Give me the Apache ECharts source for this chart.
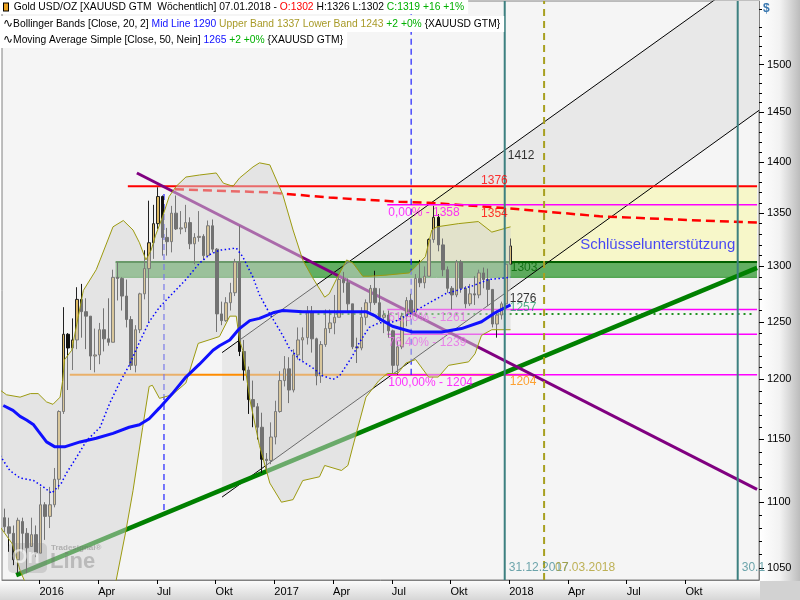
<!DOCTYPE html>
<html><head><meta charset="utf-8">
<script src="https://cdn.jsdelivr.net/npm/echarts@6/dist/echarts.min.js"></script>
<style>html,body{margin:0;padding:0;background:#fff}#c{width:800px;height:600px}</style>
</head><body><div id="c"></div>
<script>
// ---------------- DATA ----------------
const weeks = ['2015-11-04','2015-11-11','2015-11-18','2015-11-25','2015-12-02','2015-12-09','2015-12-16','2015-12-23','2015-12-30',
'2016-01-06','2016-01-13','2016-01-20','2016-01-27','2016-02-03','2016-02-10','2016-02-17','2016-02-24','2016-03-02','2016-03-09','2016-03-16','2016-03-23','2016-03-30','2016-04-06','2016-04-13','2016-04-20','2016-04-27','2016-05-04','2016-05-11','2016-05-18','2016-05-25','2016-06-01','2016-06-08','2016-06-15','2016-06-22','2016-06-29','2016-07-06','2016-07-13','2016-07-20','2016-07-27','2016-08-03','2016-08-10','2016-08-17','2016-08-24','2016-08-31','2016-09-07','2016-09-14','2016-09-21','2016-09-28','2016-10-05','2016-10-12','2016-10-19','2016-10-26','2016-11-02','2016-11-09','2016-11-16','2016-11-23','2016-11-30','2016-12-07','2016-12-14','2016-12-21','2016-12-28',
'2017-01-04','2017-01-11','2017-01-18','2017-01-25','2017-02-01','2017-02-08','2017-02-15','2017-02-22','2017-03-01','2017-03-08','2017-03-15','2017-03-22','2017-03-29','2017-04-05','2017-04-12','2017-04-19','2017-04-26','2017-05-03','2017-05-10','2017-05-17','2017-05-24','2017-05-31','2017-06-07','2017-06-14','2017-06-21','2017-06-28','2017-07-05','2017-07-12','2017-07-19','2017-07-26','2017-08-02','2017-08-09','2017-08-16','2017-08-23','2017-08-30','2017-09-06','2017-09-13','2017-09-20','2017-09-27','2017-10-04','2017-10-11','2017-10-18','2017-10-25','2017-11-01','2017-11-08','2017-11-15','2017-11-22','2017-11-29','2017-12-06','2017-12-13','2017-12-20','2017-12-27',
'2018-01-03'];
const opens  = [1141,1088,1081,1076,1056,1085,1076,1066,1075, 1061,1098,1089,1098,1118,1173,1239,1227,1234,1270,1259,1255,1220,1221,1243,1235,1232,1290,1289,1273,1252,1212,1243,1275,1298,1322,1340,1366,1327,1323,1350,1335,1336,1341,1321,1327,1328,1310,1338,1316,1257,1251,1267,1276,1304,1224,1208,1183,1177,1160,1134,1133, 1152,1173,1199,1209,1191,1221,1234,1236,1258,1235,1203,1230,1244,1249,1254,1288,1285,1266,1228,1227,1254,1267,1280,1267,1254,1256,1242,1212,1228,1255,1269,1258,1289,1285,1291,1325,1346,1320,1297,1280,1274,1304,1280,1266,1275,1274,1294,1288,1279,1248,1256,1266, 1302];
const highs  = [1143,1095,1088,1082,1088,1088,1080,1088,1082, 1112,1100,1112,1127,1174,1263,1240,1253,1281,1284,1271,1255,1244,1249,1262,1271,1297,1304,1290,1288,1255,1247,1276,1315,1362,1358,1375,1367,1336,1357,1367,1352,1358,1346,1331,1352,1330,1343,1344,1317,1268,1272,1285,1307,1338,1234,1211,1199,1180,1172,1139,1164, 1182,1207,1220,1219,1226,1245,1245,1264,1264,1236,1233,1261,1261,1274,1293,1295,1289,1266,1236,1263,1270,1283,1296,1280,1260,1260,1243,1233,1258,1272,1275,1293,1306,1300,1326,1357,1349,1326,1300,1282,1306,1306,1282,1284,1291,1297,1299,1298,1279,1260,1268,1303, 1326];
const lows   = [1085,1077,1062,1052,1046,1062,1046,1066,1058, 1061,1071,1080,1096,1110,1171,1191,1208,1226,1236,1226,1208,1206,1213,1224,1229,1232,1269,1260,1245,1208,1206,1240,1270,1250,1307,1335,1310,1310,1313,1334,1330,1332,1316,1302,1323,1306,1310,1313,1241,1247,1250,1260,1273,1220,1199,1171,1160,1150,1123,1124,1130, 1146,1172,1194,1180,1189,1217,1216,1230,1223,1195,1197,1228,1240,1239,1254,1276,1258,1226,1214,1225,1247,1259,1265,1250,1240,1236,1205,1204,1226,1246,1254,1256,1281,1280,1291,1322,1314,1291,1276,1261,1272,1276,1262,1264,1265,1271,1280,1264,1245,1236,1252,1264, 1302];
const closes = [1088,1081,1076,1056,1086,1076,1065,1075,1061, 1098,1089,1098,1118,1173,1239,1227,1234,1270,1259,1255,1220,1221,1243,1235,1232,1290,1289,1273,1252,1212,1243,1275,1298,1322,1340,1366,1327,1323,1350,1335,1336,1341,1321,1327,1328,1310,1338,1316,1257,1251,1267,1276,1304,1224,1208,1183,1177,1160,1134,1133,1152, 1173,1199,1209,1191,1221,1234,1236,1258,1235,1203,1230,1244,1249,1254,1288,1285,1266,1228,1227,1254,1267,1280,1267,1254,1256,1242,1212,1228,1255,1269,1258,1289,1285,1291,1325,1346,1320,1297,1280,1274,1304,1280,1266,1275,1274,1294,1288,1279,1248,1256,1266,1302, 1319];

const bbUpper = [['2015-11-04',1191],['2015-11-14',1187],['2015-12-05',1185],['2015-12-21',1188],['2016-01-02',1188],['2016-01-15',1181],['2016-01-25',1179],['2016-02-05',1185],['2016-02-09',1199],['2016-02-12',1217],['2016-02-23',1225],['2016-03-12',1278],['2016-04-01',1297],['2016-04-07',1306],['2016-04-27',1337],['2016-05-13',1343],['2016-05-28',1334],['2016-06-07',1322],['2016-06-17',1306],['2016-06-25',1315],['2016-07-02',1329],['2016-07-13',1347],['2016-07-23',1366],['2016-08-03',1376],['2016-08-18',1385],['2016-09-08',1387],['2016-10-04',1389],['2016-10-15',1379],['2016-10-30',1376],['2016-11-09',1384],['2016-11-30',1395],['2016-12-10',1399],['2016-12-26',1397],['2017-01-15',1368],['2017-01-31',1334],['2017-02-15',1306],['2017-03-02',1290],['2017-03-21',1272],['2017-03-28',1275],['2017-04-08',1288],['2017-04-24',1306],['2017-05-04',1303],['2017-05-19',1291],['2017-05-29',1291],['2017-06-24',1292],['2017-07-30',1294],['2017-08-11',1301],['2017-08-24',1309],['2017-09-03',1334],['2017-09-11',1337],['2017-10-14',1340],['2017-11-14',1342],['2017-12-05',1332],['2018-01-03',1337]];
const bbLower = [['2015-11-04',1081],['2015-11-23',1068],['2015-12-05',1048],['2015-12-15',1037],['2016-01-10',1025],['2016-02-10',1015],['2016-03-15',1005],['2016-04-10',1015],['2016-05-02',1041],['2016-05-17',1078],['2016-05-28',1109],['2016-06-12',1160],['2016-06-22',1194],['2016-06-27',1195],['2016-07-08',1184],['2016-07-28',1187],['2016-08-18',1197],['2016-09-06',1231],['2016-10-09',1237],['2016-10-25',1255],['2016-11-04',1255],['2016-11-09',1234],['2016-11-14',1225],['2016-11-25',1183],['2016-12-10',1145],['2016-12-26',1115],['2017-01-13',1100],['2017-01-31',1102],['2017-02-15',1117],['2017-03-13',1120],['2017-03-21',1129],['2017-04-16',1125],['2017-04-26',1129],['2017-05-09',1155],['2017-05-24',1185],['2017-06-13',1199],['2017-06-26',1205],['2017-07-12',1205],['2017-07-25',1214],['2017-08-09',1217],['2017-08-29',1202],['2017-09-13',1202],['2017-09-29',1212],['2017-10-30',1215],['2017-11-09',1222],['2017-11-19',1238],['2017-12-05',1243],['2018-01-03',1243]];
const bbMid = [['2015-11-04',1137],['2015-11-19',1125],['2015-12-05',1119],['2015-12-26',1117],['2016-01-10',1112],['2016-01-23',1107],['2016-02-07',1115],['2016-02-15',1123],['2016-03-02',1136],['2016-03-17',1149],['2016-04-07',1160],['2016-04-22',1180],['2016-05-07',1197],['2016-05-22',1212],['2016-06-07',1232],['2016-06-22',1250],['2016-07-08',1263],['2016-08-18',1288],['2016-09-08',1303],['2016-09-24',1311],['2016-10-09',1315],['2016-11-04',1317],['2016-11-14',1309],['2016-11-30',1290],['2016-12-10',1274],['2016-12-26',1257],['2017-01-15',1238],['2017-01-25',1227],['2017-02-10',1217],['2017-03-02',1210],['2017-03-18',1203],['2017-04-03',1200],['2017-04-13',1203],['2017-05-02',1219],['2017-05-14',1232],['2017-05-29',1245],['2017-06-13',1249],['2017-07-07',1250],['2017-08-09',1260],['2017-09-24',1275],['2017-11-04',1282],['2017-11-30',1288],['2018-01-03',1290]];
const sma50 = [['2015-11-09',1178],['2015-11-24',1174],['2015-12-05',1169],['2015-12-15',1166],['2015-12-26',1162],['2016-01-02',1157],['2016-01-15',1148],['2016-01-28',1144],['2016-02-12',1144],['2016-03-07',1148],['2016-04-01',1151],['2016-04-27',1155],['2016-05-22',1160],['2016-06-07',1162],['2016-06-22',1167],['2016-07-08',1176],['2016-07-28',1188],['2016-08-18',1202],['2016-09-08',1213],['2016-09-29',1225],['2016-10-09',1229],['2016-10-25',1234],['2016-11-09',1244],['2016-11-25',1251],['2016-12-10',1253],['2016-12-31',1258],['2017-01-15',1260],['2017-02-15',1259],['2017-05-24',1259],['2017-06-08',1255],['2017-06-13',1253],['2017-07-04',1246],['2017-08-04',1241],['2017-09-18',1241],['2017-10-19',1244],['2017-11-19',1250],['2017-12-10',1258],['2018-01-03',1265]];

const channelLow  = [['2016-10-13',1104],['2019-01-23',1452]];
const channelHigh = [['2016-10-13',1223],['2019-01-23',1606]];
const greenTrend  = [['2015-11-29',1044.6],['2019-01-20',1298.6]];
const purpleTrend = [['2016-06-03',1389],['2019-01-20',1110]];
const redLine     = [['2016-05-20',1376],['2019-01-20',1376]];
const redDashed   = [['2016-08-01',1373],['2016-12-26',1370],['2017-03-28',1365],['2017-07-14',1361],['2017-08-29',1360],['2017-12-25',1355],['2018-05-21',1347],['2018-10-23',1343],['2019-01-20',1341]];
const orangeLine  = [['2016-02-20',1204],['2018-02-04',1204]];
const greenDotted = [['2017-02-10',1257],['2019-01-14',1257]];
const fibRange    = ['2017-06-26','2019-01-20'];
const fibLevels   = [1358,1261,1239,1204];
const fibTexts    = ['0,00% - 1358','61,80% - 1261','76,40% - 1239','100,00% - 1204'];
const greenZone   = {from:'2016-05-01', to:'2019-01-20', low:1290, high:1304};
const yellowZone  = {from:'2017-08-02', to:'2019-01-20', low:1303, high:1376};
const blueDash1   = [['2016-07-15',1094],['2016-07-15',1370]];
const blueDash2   = [['2017-08-02',1204],['2017-08-02',1569]];
const tealDates   = ['2017-12-25','2018-12-21'];
const oliveDate   = '2018-02-24';
const valueTexts  = ['1412','1376','1354','1303','1276','1257','1204'];
const valuePrices = [1412,1376,1354,1303,1276,1257,1204];
const valueDate   = '2017-12-25';
const vlineTexts  = ['31.12.2017','07.03.2018','30.1'];
const keyText     = 'Schlüsselunterstützung';
const keyPos      = ['2018-08-19',1320];
const xTickDates  = ['2016-01-04','2016-04-04','2016-07-04','2016-10-03','2017-01-02','2017-04-03','2017-07-03','2017-10-02','2018-01-01','2018-04-02','2018-07-02','2018-10-01'];
const yTickLabels = [1050,1100,1150,1200,1250,1300,1350,1400,1450,1500];
const xRange = ['2015-11-07','2019-01-23'];
const yRange = [1041,1569];

// ---------------- HELPERS ----------------
const T = s => { const [y,m,d] = s.split('-').map(Number); return new Date(y, m-1, d).getTime(); };
const P = arr => arr.map(([d,v]) => [T(d), v]);
const FONT = 'Liberation Sans';
const yMinor = [];
for (let v = 1050; v <= 1560; v += 10) if (v % 50 !== 0) yMinor.push(v);

function poly(name, pts, fill, z) {
  const tp = P(pts);
  return { name, type:'custom', z, silent:true, data:[tp[0]], encode:{x:0,y:1},
    renderItem(params, api) {
      const cs = params.coordSys;
      return { type:'group', clipPath:{type:'rect', shape:{x:cs.x, y:cs.y, width:cs.width, height:cs.height}},
        children:[{type:'polygon', shape:{points: tp.map(p => api.coord(p))}, style:{fill}}]};
    }};
}
function rectPts(zn) { return [[zn.from,zn.low],[zn.to,zn.low],[zn.to,zn.high],[zn.from,zn.high]]; }
function ln(name, pts, style, z) {
  return { name, type:'line', z, data:P(pts), showSymbol:false, symbol:'none', silent:true, lineStyle:style };
}
function lbl(items, z) {
  return { type:'scatter', z, silent:true, symbolSize:0, clip:false,
    data: items.map(it => ({ value:[T(it.d), it.p], label:{ show:true, formatter:it.t, position:it.pos||'right', distance:0,
      offset:it.off||[0,0], color:it.c, fontSize:it.fs||11, fontFamily:FONT } })) };
}

const candleData = weeks.map((w,i) => [T(w), opens[i], closes[i], lows[i], highs[i]]);
const bandPoly = bbUpper.concat(bbLower.slice().reverse());
const channelPoly = [channelLow[0], channelLow[1], channelHigh[1], channelHigh[0]];

const series = [];
series.push(poly('channel', channelPoly, '#e8e8e8', 1));
series.push(poly('yellow', rectPts(yellowZone), 'rgba(250,250,140,0.42)', 1));
series.push(poly('green', rectPts(greenZone), 'rgba(0,128,0,0.6)', 1));
series.push(ln('gzTop', [[greenZone.from,greenZone.high],[greenZone.to,greenZone.high]], {color:'#006000', width:2}, 1));
series.push(ln('gzBot', [[greenZone.from,greenZone.low],[greenZone.to,greenZone.low]], {color:'#3a9a3a', width:1}, 1));
series.push({ type:'candlestick', z:2, silent:true, data:candleData, barWidth:3,
  itemStyle:{ color:'#dcb862', color0:'#111', borderColor:'#222', borderColor0:'#111', borderWidth:1 } });
series.push(ln('L1', channelLow, {color:'#000', width:1}, 2));
series.push(ln('L2', channelHigh, {color:'#000', width:1}, 2));
series.push(ln('red', redLine, {color:'#ff0000', width:2}, 2));
series.push(ln('redD', redDashed, {color:'#ff0000', width:2.5, type:[9,5]}, 2));
series.push(ln('orange', orangeLine, {color:'#ff8c00', width:2}, 2));
fibLevels.forEach((v,i) => series.push(ln('fib'+i, [[fibRange[0],v],[fibRange[1],v]], {color:'#ff00ff', width:1.5}, 2)));
series.push(ln('gdot', greenDotted, {color:'#209020', width:2, type:[2,4]}, 2));
series.push(ln('gtrend', greenTrend, {color:'#008000', width:4.5}, 2));
series.push(ln('ptrend', purpleTrend, {color:'#800080', width:3}, 2));
series.push(ln('bd1', blueDash1, {color:'#2020ff', width:1.2, type:[6,4]}, 2));
series.push(ln('bd2', blueDash2, {color:'#2020ff', width:1.2, type:[6,4]}, 2));
series.push(lbl(fibLevels.map((v,i) => ({d:fibRange[0], p:v, t:fibTexts[i], c:'#ff00ff', off:[1,8], fs:12})), 2));
series.push(poly('band', bandPoly, 'rgba(212,212,212,0.5)', 3));
series.push(ln('bbU', bbUpper, {color:'#9c9a10', width:1}, 4));
series.push(ln('bbL', bbLower, {color:'#9c9a10', width:1}, 4));
series.push(ln('bbM', bbMid, {color:'#0000ff', width:1.5, type:[1.5,2.5]}, 4));
series.push(ln('sma', sma50, {color:'#1010ff', width:3}, 4));
tealDates.forEach((d,i) => series.push(ln('teal'+i, [[d,yRange[0]],[d,yRange[1]]], {color:'#3d8080', width:2}, 4)));
series.push(ln('olive', [[oliveDate,yRange[0]],[oliveDate,yRange[1]]], {color:'#a8a020', width:2, type:[7,5]}, 4));
const vColors = ['#000','#ff0000','#ff0000','#006400','#000','#2e9a6e','#ff8c00'];
const vPos = ['right','left','left','right','right','right','right'];
const vOff = [[3,6],[3,-6],[3,5],[6,5],[5,6],[5,-6],[5,7]];
series.push(lbl(valueTexts.map((t,i) => ({d:valueDate, p:valuePrices[i], t, c:vColors[i], pos:vPos[i], off:vOff[i], fs:12})), 5));
series.push(lbl([
  {d:tealDates[0], p:1050, t:vlineTexts[0], c:'#4a9098', off:[4,0], fs:12},
  {d:oliveDate, p:1050, t:vlineTexts[1], c:'#b0a030', off:[11,0], fs:12},
  {d:tealDates[1], p:1050, t:vlineTexts[2], c:'#4a9098', off:[4,0], fs:12}
], 5));
series.push(lbl([{d:keyPos[0], p:keyPos[1], t:keyText, c:'#1818ff', pos:'inside', fs:15}], 5));

const base = {fontSize:10.3, fontFamily:FONT, fontWeight:'normal'};
const rich = {
  k:Object.assign({color:'#000'}, base),
  r:Object.assign({color:'#ff0000'}, base),
  g:Object.assign({color:'#00b000'}, base),
  b:Object.assign({color:'#1010ff'}, base),
  o:Object.assign({color:'#a89a28'}, base),
  ic:{width:4, height:7, backgroundColor:'#e8a020', borderColor:'#000', borderWidth:1},
  sq:{color:'#000', fontSize:12, fontFamily:'DejaVu Sans', fontWeight:'normal'}
};
const tStyle = Object.assign({color:'#000', rich}, base);
const monthName = {3:'Apr', 6:'Jul', 9:'Okt'};
const option = {
  animation:false,
  backgroundColor:'#ffffff',
  textStyle:{fontFamily:FONT},
  grid:{left:2, right:41, top:1, bottom:20, show:true, backgroundColor:'#f5f5f5', borderColor:'#808080', borderWidth:1},
  title:[
    {left:0, top:0, padding:[2,4,2,4], backgroundColor:'#fff',
     text:'{ic|}  {k|Gold USD/OZ [XAUUSD GTM  Wöchentlich] 07.01.2018 - }{r|O:1302}{k| H:1326 L:1302 }{g|C:1319 +16 +1%}', textStyle:tStyle},
    {left:0, top:16, padding:[2,4,2,3], backgroundColor:'#fff',
     text:'{sq|∿}{k|Bollinger Bands [Close, 20, 2] }{b|Mid Line 1290 }{o|Upper Band 1337 Lower Band 1243 }{g|+2 +0% }{XAUUSD GTM}', textStyle:tStyle},
    {left:0, top:32, padding:[2,4,2,3], backgroundColor:'#fff',
     text:'{sq|∿}{k|Moving Average Simple [Close, 50, Nein] }{b|1265 }{g|+2 +0% }{XAUUSD GTM}', textStyle:tStyle}
  ],
  xAxis:{ type:'value', min:T(xRange[0]), max:T(xRange[1]),
    axisLine:{show:true, lineStyle:{color:'#808080'}},
    axisTick:{show:true, length:4, lineStyle:{color:'#000'}, customValues:xTickDates.map(T)},
    axisLabel:{customValues:xTickDates.map(T), align:'left', margin:6, color:'#000', fontSize:11, fontFamily:FONT,
      formatter:v => { const d = new Date(v); const m = d.getMonth(); return m===0 ? String(d.getFullYear()) : (monthName[m] || ''); }},
    splitLine:{show:false} },
  yAxis:[
    { type:'log', logBase:10, min:yRange[0], max:yRange[1], position:'right',
      axisLine:{show:true, lineStyle:{color:'#808080'}},
      axisTick:{show:true, length:5, lineStyle:{color:'#000'}, customValues:yTickLabels},
      axisLabel:{customValues:yTickLabels, margin:8, color:'#000', fontSize:11, fontFamily:FONT, formatter:v => String(Math.round(v))},
      splitLine:{show:false} },
    { type:'log', logBase:10, min:yRange[0], max:yRange[1], position:'right',
      axisLine:{show:false}, axisTick:{show:true, length:3, lineStyle:{color:'#000'}, customValues:yMinor},
      axisLabel:{show:false}, splitLine:{show:false} }
  ],
  graphic:[
    {type:'rect', z:-10, silent:true, shape:{x:760, y:0, width:40, height:600},
     style:{fill:new echarts.graphic.LinearGradient(0,0,1,0,[{offset:0,color:'#ffffff'},{offset:0.5,color:'#f2f2f2'},{offset:1,color:'#bcbcbc'}])}},
    {type:'rect', z:-10, silent:true, shape:{x:0, y:581, width:760, height:19},
     style:{fill:new echarts.graphic.LinearGradient(0,0,0,1,[{offset:0,color:'#fbfbfb'},{offset:1,color:'#d6d6d6'}])}},
    {type:'rect', z:-9, silent:true, shape:{x:760, y:581, width:40, height:19}, style:{fill:'#d2d2d2'}},
    {type:'text', z:10, silent:true, left:763, top:3, style:{text:'$', fill:'#3a78b0', font:'bold 12px Liberation Sans'}},
    {type:'rect', z:10, silent:true, shape:{x:8, y:543, width:39, height:30, r:5}, style:{fill:'rgba(120,120,120,0.22)'}},
    {type:'text', z:10, silent:true, left:12, top:547, style:{text:'On', fill:'rgba(255,255,255,0.6)', font:'bold 20px Liberation Sans'}},
    {type:'text', z:10, silent:true, left:51, top:544, style:{text:'Tradesignal®', fill:'rgba(110,110,110,0.45)', font:'bold 8px Liberation Sans'}},
    {type:'text', z:10, silent:true, left:50, top:551, style:{text:'Line', fill:'rgba(110,110,110,0.35)', font:'bold 22px Liberation Sans'}}
  ],
  series
};
const chart = echarts.init(document.getElementById('c'));
chart.setOption(option);
</script>
</body></html>
